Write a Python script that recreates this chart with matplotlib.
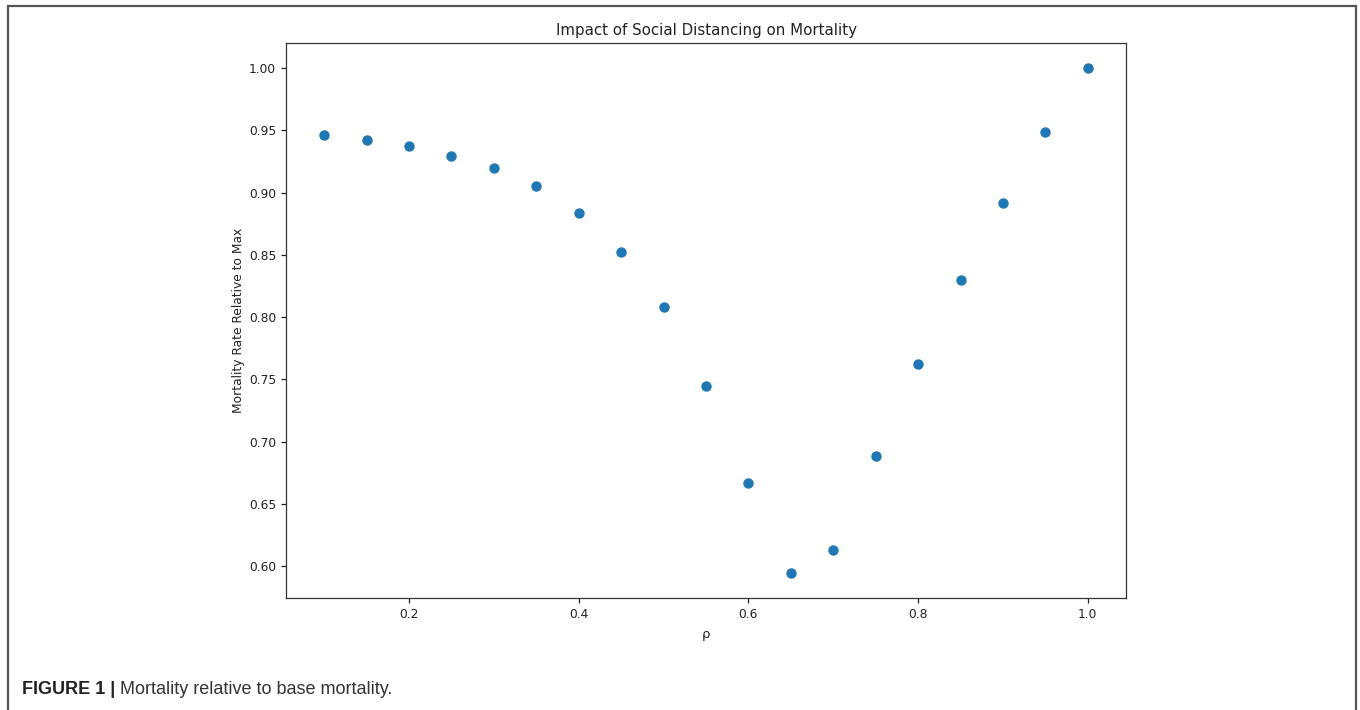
import matplotlib
matplotlib.use("Agg")
import matplotlib.pyplot as plt
from matplotlib.patches import Rectangle

rho = [0.10, 0.15, 0.20, 0.25, 0.30, 0.35, 0.40, 0.45, 0.50, 0.55,
       0.60, 0.65, 0.70, 0.75, 0.80, 0.85, 0.90, 0.95, 1.00]
mortality = [0.9463, 0.9423, 0.9375, 0.9295, 0.9200, 0.9055, 0.8838, 0.8526, 0.8085, 0.7445,
             0.6668, 0.5947, 0.6131, 0.6884, 0.7621, 0.8302, 0.8919, 0.9487, 1.0000]

title = "Impact of Social Distancing on Mortality"
xlabel = "ρ"
ylabel = "Mortality Rate Relative to Max"
caption_bold = "FIGURE 1 |"
caption_text = " Mortality relative to base mortality."

W, H = 1360, 710
fig = plt.figure(figsize=(W / 100, H / 100), dpi=100)
ax = fig.add_axes([286 / W, 1 - 598 / H, (1126 - 286) / W, (598 - 43) / H])
ax.scatter(rho, mortality, s=42, color="#1f77b4", zorder=3)
ax.set_title(title, fontsize=10.8, color="#222222", pad=6)
ax.set_xlabel(xlabel, fontsize=9.5, color="#222222", labelpad=5)
ax.set_ylabel(ylabel, fontsize=8.8, color="#222222", labelpad=3)
ax.set_xticks([0.2, 0.4, 0.6, 0.8, 1.0])
ax.set_yticks([0.60, 0.65, 0.70, 0.75, 0.80, 0.85, 0.90, 0.95, 1.00])
ax.tick_params(labelsize=8.8, colors="#222222", length=3.5, width=0.9)
for s in ax.spines.values():
    s.set_color("#333333")
    s.set_linewidth(0.9)

# outer frame (open at bottom)
fig.patches.append(Rectangle((8 / W, -0.05), (1356 - 8) / W, 1.05 - 6 / H,
                             transform=fig.transFigure, fill=False,
                             edgecolor="#555555", linewidth=1.6))

fig.canvas.draw()
r = fig.canvas.get_renderer()
t1 = fig.text(22 / W, 1 - 690 / H, caption_bold, fontsize=13, fontweight="bold",
              family="Liberation Sans", color="#222222", va="center", ha="left")
bb = t1.get_window_extent(renderer=r)
fig.text(bb.x1 / W, 1 - 690 / H, caption_text, fontsize=13,
         family="Liberation Sans", color="#333333", va="center", ha="left")

fig.savefig("out.png", dpi=100)
